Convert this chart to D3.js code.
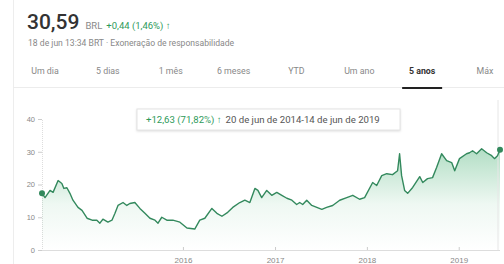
<!DOCTYPE html>
<html>
<head>
<meta charset="utf-8">
<script src="https://cdn.jsdelivr.net/npm/d3@7"></script>
<style>
  body { margin: 0; background: #fff; }
  svg { font-family: Roboto, Arial, sans-serif; }
</style>
</head>
<body>
<div id="chart"></div>
<script>
// price history, 20 de jun de 2014 - 14 de jun de 2019 (BRL)
const dates = [
  '2014-06-20', '2014-07-02', '2014-07-22', '2014-08-03', '2014-08-23', '2014-09-07',
  '2014-09-15', '2014-09-27', '2014-10-09', '2014-10-21', '2014-11-10', '2014-11-26',
  '2014-12-16', '2015-01-05', '2015-01-24', '2015-02-05', '2015-02-17', '2015-03-09',
  '2015-03-25', '2015-04-06', '2015-04-18', '2015-05-08', '2015-05-23', '2015-06-04',
  '2015-06-24', '2015-07-14', '2015-08-03', '2015-08-23', '2015-09-12', '2015-09-24',
  '2015-10-09', '2015-10-29', '2015-11-22', '2015-12-20', '2016-01-17', '2016-02-17',
  '2016-03-08', '2016-03-28', '2016-04-25', '2016-05-15', '2016-06-04', '2016-06-27',
  '2016-07-17', '2016-08-14', '2016-09-03', '2016-09-23', '2016-10-13', '2016-10-25',
  '2016-11-09', '2016-11-29', '2016-12-19', '2017-01-08', '2017-01-28', '2017-02-17',
  '2017-03-09', '2017-03-28', '2017-04-09', '2017-04-21', '2017-05-07', '2017-05-27',
  '2017-06-16', '2017-07-06', '2017-07-25', '2017-08-18', '2017-09-15', '2017-10-13',
  '2017-11-06', '2017-12-03', '2017-12-23', '2018-01-24', '2018-02-09', '2018-03-01',
  '2018-03-21', '2018-04-13', '2018-05-03', '2018-05-11', '2018-05-19', '2018-05-31',
  '2018-06-12', '2018-07-02', '2018-07-30', '2018-08-11', '2018-08-30', '2018-09-19',
  '2018-10-05', '2018-10-25', '2018-11-14', '2018-12-04', '2018-12-16', '2019-01-04',
  '2019-02-01', '2019-02-13', '2019-02-25', '2019-03-13', '2019-04-02', '2019-04-22',
  '2019-05-12', '2019-05-23', '2019-06-04', '2019-06-14'
]
const prices = [
  17.3, 16.0, 18.2, 17.6, 21.2, 20.3,
  18.8, 19.0, 17.3, 15.2, 13.0, 12.1,
  9.7, 9.1, 9.1, 8.2, 9.4, 8.5,
  9.1, 11.2, 13.6, 14.5, 13.6, 14.2,
  14.5, 12.7, 11.2, 9.7, 9.1, 8.2,
  10.0, 9.1, 9.1, 8.5, 6.7, 6.4,
  9.1, 9.7, 12.7, 11.2, 10.3, 11.5,
  13.0, 14.5, 15.2, 14.5, 18.8, 18.2,
  16.0, 18.2, 16.7, 17.6, 16.7, 15.8,
  15.2, 13.9, 14.5, 13.9, 15.2, 13.6,
  13.0, 12.4, 13.0, 13.6, 15.2, 16.0,
  16.7, 15.5, 16.0, 20.6, 19.7, 22.7,
  23.3, 23.0, 24.2, 29.4, 22.7, 18.2,
  17.3, 19.1, 22.4, 20.6, 21.8, 22.1,
  25.2, 29.4, 27.3, 26.7, 24.2, 27.9,
  29.4, 29.7, 30.3, 29.4, 30.9, 29.7,
  28.8, 27.9, 28.8, 30.59
]
const yTicks = [0, 10, 20, 30, 40]
const xTickYears = ['2016', '2017', '2018', '2019']
const tabs = ['Um dia', '5 dias', '1 mês', '6 meses', 'YTD', 'Um ano', '5 anos', 'Máx']
const activeTab = '5 anos'

const width = 504
const height = 264
const margin = { top: 119, left: 42, right: 4, bottom: 14 }
const green = '#2e9a5a'
const lineColor = '#33895d'

const parse = d3.timeParse('%Y-%m-%d')
const data = dates.map((d, i) => ({ date: parse(d), value: prices[i] }))

const svg = d3
  .select('#chart')
  .append('svg')
  .attr('width', width)
  .attr('height', height)

// card edge + header
svg.append('line')
  .attr('x1', 13.5).attr('x2', 13.5)
  .attr('y1', 0).attr('y2', height)
  .attr('stroke', '#ededed')

const head = svg.append('text').attr('x', 27).attr('y', 29)
head.append('tspan').attr('font-size', 21).attr('fill', '#333').attr('font-weight', 500).text('30,59')
head.append('tspan').attr('dx', 6).attr('font-size', 9.5).attr('fill', '#8a8a8a').text('BRL')
head.append('tspan').attr('dx', 4).attr('font-size', 9.5).attr('fill', green).text('+0,44 (1,46%) ↑')

svg.append('text')
  .attr('x', 28).attr('y', 45.5)
  .attr('font-size', 8.6).attr('fill', '#888')
  .text('18 de jun 13:34 BRT · Exoneração de responsabilidade')

// period tabs
const tabX = d3.scalePoint().domain(tabs).range([45, 485])
svg.selectAll('.tab')
  .data(tabs)
  .enter()
  .append('text')
  .attr('class', 'tab')
  .attr('x', d => tabX(d))
  .attr('y', 74)
  .attr('text-anchor', 'middle')
  .attr('font-size', 8.8)
  .attr('font-weight', d => d === activeTab ? 700 : 400)
  .attr('fill', d => d === activeTab ? '#333' : '#888')
  .text(d => d)

svg.append('line')
  .attr('x1', 13).attr('x2', width)
  .attr('y1', 87.5).attr('y2', 87.5)
  .attr('stroke', '#ececec')
svg.append('line')
  .attr('x1', tabX(activeTab) - 20).attr('x2', tabX(activeTab) + 20)
  .attr('y1', 88).attr('y2', 88)
  .attr('stroke', '#222').attr('stroke-width', 2)

// scales
const x = d3.scaleTime()
  .domain(d3.extent(data, d => d.date))
  .range([margin.left, width - margin.right])
const y = d3.scaleLinear()
  .domain([0, 40])
  .range([height - margin.bottom, margin.top])

// axes
const yAxis = svg.append('g')
  .attr('transform', `translate(${margin.left},0)`)
  .call(d3.axisLeft(y).tickValues(yTicks).tickSize(4).tickPadding(3))
yAxis.select('.domain').attr('stroke', '#ddd').attr('stroke-dasharray', '1,1')
yAxis.selectAll('line').attr('stroke', '#ccc')
yAxis.selectAll('text').attr('fill', '#888').attr('font-size', 7.5)

const xAxis = svg.append('g')
  .attr('transform', `translate(0,${y(0)})`)
  .call(d3.axisBottom(x)
    .tickValues(xTickYears.map(d => d3.timeParse('%Y')(d)))
    .tickFormat(d3.timeFormat('%Y'))
    .tickSize(-3)
    .tickPadding(7))
xAxis.select('.domain').attr('stroke', '#ddd').attr('d', `M${margin.left},0.5H${width - 4}`)
xAxis.selectAll('line').attr('stroke', '#ccc')
xAxis.selectAll('text').attr('fill', '#888').attr('font-size', 8)

// area gradient
const grad = svg.append('defs').append('linearGradient')
  .attr('id', 'fade')
  .attr('gradientUnits', 'userSpaceOnUse')
  .attr('x1', 0).attr('x2', 0)
  .attr('y1', y(31)).attr('y2', y(0))
grad.append('stop').attr('offset', 0).attr('stop-color', '#34a865').attr('stop-opacity', 0.38)
grad.append('stop').attr('offset', 0.55).attr('stop-color', '#34a865').attr('stop-opacity', 0.08)
grad.append('stop').attr('offset', 1).attr('stop-color', '#34a865').attr('stop-opacity', 0)

const area = d3.area()
  .x(d => x(d.date))
  .y0(y(0))
  .y1(d => y(d.value))
const line = d3.line()
  .x(d => x(d.date))
  .y(d => y(d.value))

svg.append('path')
  .datum(data)
  .attr('d', area)
  .attr('fill', 'url(#fade)')

// hover marker at the end
const last = data[data.length - 1]
svg.append('line')
  .attr('x1', x(last.date) - 2).attr('x2', x(last.date) - 2)
  .attr('y1', 100).attr('y2', y(0))
  .attr('stroke', '#e6e6e6')

svg.append('path')
  .datum(data)
  .attr('d', line)
  .attr('fill', 'none')
  .attr('stroke', lineColor)
  .attr('stroke-width', 1.4)
  .attr('stroke-linejoin', 'round')

svg.selectAll('.end')
  .data([data[0], last])
  .enter()
  .append('circle')
  .attr('class', 'end')
  .attr('cx', d => x(d.date))
  .attr('cy', d => y(d.value))
  .attr('r', 3)
  .attr('fill', lineColor)

// range tooltip
const tip = svg.append('g').attr('transform', 'translate(137,109)')
tip.append('rect')
  .attr('width', 263).attr('height', 21)
  .attr('fill', '#fff')
  .attr('stroke', '#e4e4e4')
  .attr('filter', 'drop-shadow(0 1px 1px rgba(0,0,0,0.12))')
const tipText = tip.append('text').attr('x', 9).attr('y', 14).attr('font-size', 9.6)
tipText.append('tspan').attr('fill', green).text('+12,63 (71,82%) ↑')
tipText.append('tspan').attr('dx', 4).attr('fill', '#555').text('20 de jun de 2014-14 de jun de 2019')
</script>
</body>
</html>
